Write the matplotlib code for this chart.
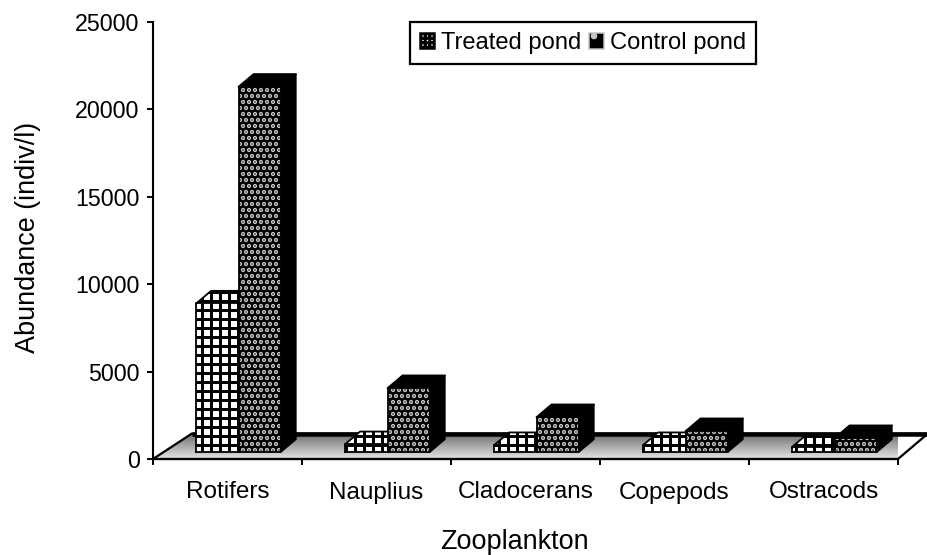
import numpy as np
from matplotlib import pyplot as plt
from matplotlib.patches import Patch, Polygon

plt.rcParams['font.family'] = ['Liberation Sans', 'DejaVu Sans']
plt.rcParams['hatch.linewidth'] = 2.0

# values
categories = ['Rotifers', 'Nauplius', 'Cladocerans', 'Copepods', 'Ostracods']
treated = [8500, 450, 400, 400, 300]
control = [20900, 3660, 2000, 1200, 800]
y_ticks = [0, 5000, 10000, 15000, 20000, 25000]

# fake 3D look, in data units
bar_w = 0.285
bar_start = 0.29
depth_x = 0.10
depth_y = 720
base = 400
floor_dx = 0.2
floor_dy = 1450

dot_color = '#c4c4c4'

fig = plt.figure(figsize=(927 / 108, 555 / 108), dpi=108)
ax = fig.add_axes([153 / 927, 96 / 555, 745 / 927, 437 / 555])

# floor with grey gradient
floor_pts = [(0, 0), (5, 0), (5 + floor_dx, floor_dy), (floor_dx + 0.06, floor_dy)]
grad = np.linspace(0.9, 0.42, 64).reshape(-1, 1)
im = ax.imshow(grad, cmap='gray', vmin=0, vmax=1, aspect='auto', origin='lower',
               extent=(0, 5 + floor_dx, 0, floor_dy), zorder=1)
floor = Polygon(floor_pts, closed=True, facecolor='none', edgecolor='black',
                linewidth=1.5, clip_on=False, zorder=1.2)
ax.add_patch(floor)
im.set_clip_path(floor)
ax.plot([floor_dx + 0.06, 5 + floor_dx], [floor_dy, floor_dy], color='black', lw=3,
        clip_on=False, zorder=1.3, solid_capstyle='butt')


def draw_bar(x, value, face, hatch, edge, roof_hatch, z):
    # front face through bar(), then the side and the top
    ax.bar(x, value, bar_w, bottom=base, align='edge', facecolor=face, hatch=hatch,
           edgecolor=edge, linewidth=0, zorder=z)
    ax.plot([x, x + bar_w, x + bar_w, x, x], [base, base, base + value, base + value, base],
            color='black', lw=1.2, zorder=z + 0.01)
    top = base + value
    side = [(x + bar_w, base), (x + bar_w + depth_x, base + depth_y),
            (x + bar_w + depth_x, top + depth_y), (x + bar_w, top)]
    roof = [(x, top), (x + depth_x, top + depth_y),
            (x + bar_w + depth_x, top + depth_y), (x + bar_w, top)]
    ax.add_patch(Polygon(side, closed=True, facecolor='black', edgecolor='black', lw=0.8, zorder=z))
    ax.add_patch(Polygon(roof, closed=True, facecolor=face, hatch=roof_hatch,
                         edgecolor=edge, lw=0, zorder=z))
    ax.plot([r[0] for r in roof], [r[1] for r in roof], color='black', lw=1.2, zorder=z + 0.01)


for i in range(len(categories)):
    left = i + bar_start
    draw_bar(left, treated[i], 'white', '++', 'black', '++', 2 + i * 0.1)
    draw_bar(left + bar_w, control[i], 'black', '...', dot_color, None, 2.05 + i * 0.1)

ax.set_xlim(0, 5)
ax.set_ylim(0, 25000)

ax.spines['top'].set_visible(False)
ax.spines['right'].set_visible(False)
ax.spines['left'].set_linewidth(1.4)
ax.spines['bottom'].set_linewidth(1.4)

ax.set_yticks(y_ticks)
ax.tick_params(axis='y', labelsize=15.5, length=4, width=1.3, pad=5)
ax.set_xticks(range(6))
ax.set_xticklabels([])
ax.tick_params(axis='x', which='major', length=4, width=1.3)
ax.set_xticks(np.arange(len(categories)) + 0.5, minor=True)
ax.set_xticklabels(categories, minor=True, fontsize=16.2)
ax.tick_params(axis='x', which='minor', length=0, pad=15)

ax.set_xlabel('Zooplankton', fontsize=18)
ax.xaxis.set_label_coords(0.485, -0.16)
ax.set_ylabel('Abundance (indiv/l)', fontsize=18)
ax.yaxis.set_label_coords(-0.15, 0.506)

handles = [Patch(facecolor='white', edgecolor='black', hatch='++++', label='Treated pond'),
           Patch(facecolor='black', edgecolor=dot_color, hatch='.', label='Control pond')]
leg = ax.legend(handles=handles, ncols=2, loc='upper left', bbox_to_anchor=(257 / 745, 1.0),
                borderaxespad=0, fontsize=15.8, fancybox=False, framealpha=1, edgecolor='black',
                handlelength=0.65, handleheight=0.65, handletextpad=0.25, columnspacing=0.3,
                borderpad=0.42)
leg.get_frame().set_linewidth(1.5)
leg.set_zorder(5)

fig.savefig('out.png', dpi=108)
